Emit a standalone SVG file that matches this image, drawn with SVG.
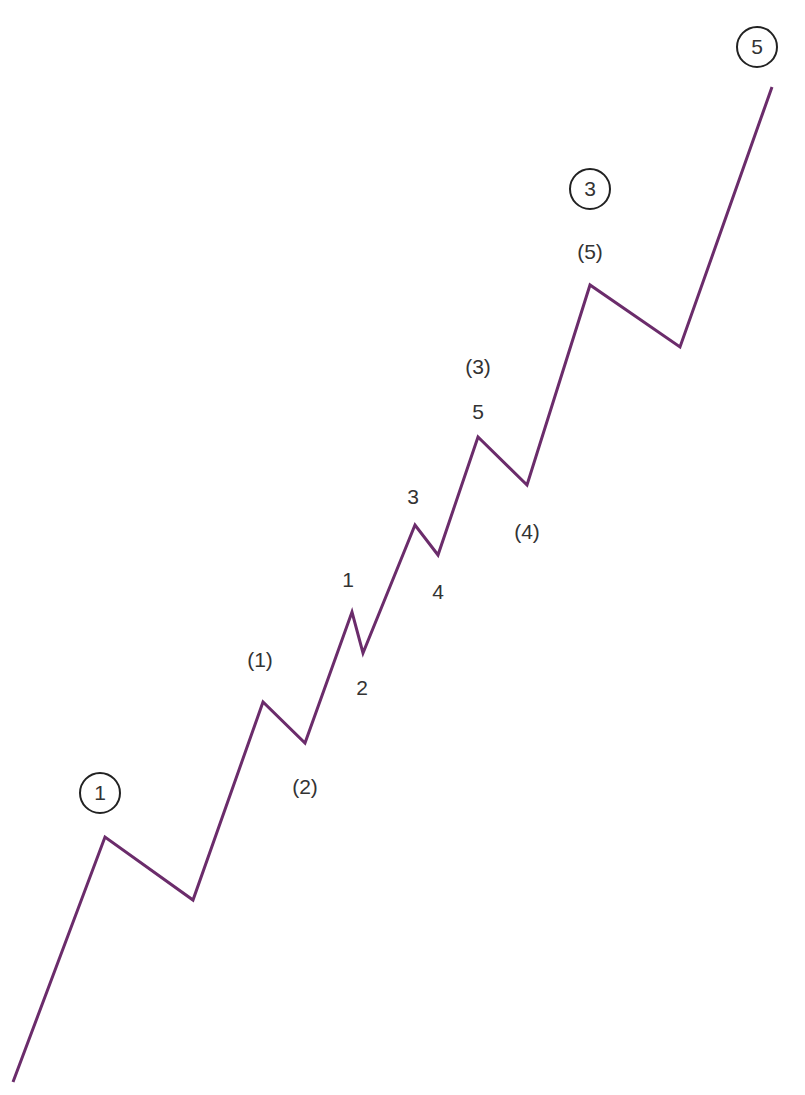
<svg xmlns="http://www.w3.org/2000/svg" width="805" height="1095" viewBox="0 0 805 1095">
<style>
.wave{fill:none;stroke:#6b2c6b;stroke-width:3;stroke-linejoin:miter}
.lbl{font-family:"Liberation Sans",Arial,sans-serif;font-size:21px;fill:#333;text-anchor:middle}
.ring{fill:none;stroke:#222;stroke-width:2}
</style>
<rect width="805" height="1095" fill="#fff"/>
<g id="connectors">
<polyline class="wave" points="13,1082 105,837 193,900 263,702 305,743 352,612 363,653 415,525 438,555 478,437 527,485 590,285 680,347 772,87"/>
</g>
<g id="c1"><circle class="ring" cx="100" cy="793" r="20"/><text class="lbl" x="100" y="800">1</text></g>
<g id="c3"><circle class="ring" cx="590" cy="189" r="20"/><text class="lbl" x="590" y="196">3</text></g>
<g id="c5"><circle class="ring" cx="757" cy="47" r="20"/><text class="lbl" x="757" y="54">5</text></g>
<g id="p1"><text class="lbl" x="260" y="667">(1)</text></g>
<g id="p2"><text class="lbl" x="305" y="794">(2)</text></g>
<g id="p3"><text class="lbl" x="478" y="374">(3)</text></g>
<g id="p4"><text class="lbl" x="527" y="539">(4)</text></g>
<g id="p5"><text class="lbl" x="590" y="259">(5)</text></g>
<g id="n1"><text class="lbl" x="348" y="587">1</text></g>
<g id="n2"><text class="lbl" x="362" y="695">2</text></g>
<g id="n3"><text class="lbl" x="413" y="504">3</text></g>
<g id="n4"><text class="lbl" x="438" y="599">4</text></g>
<g id="n5"><text class="lbl" x="478" y="419">5</text></g>
</svg>
